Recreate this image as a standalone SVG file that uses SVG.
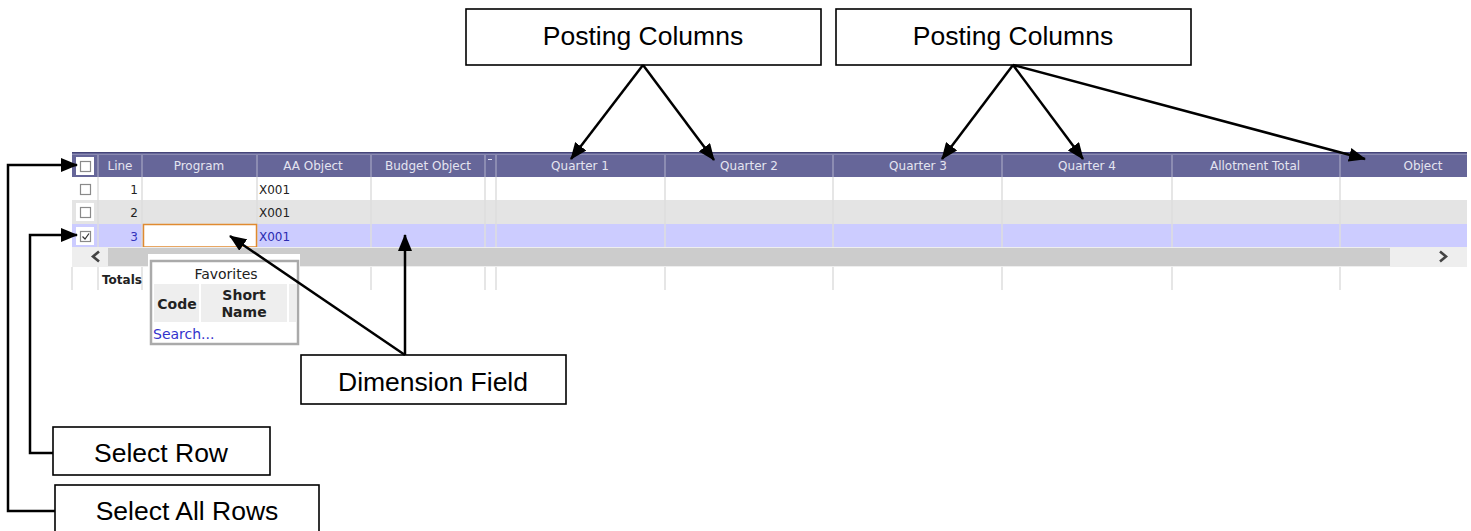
<svg xmlns="http://www.w3.org/2000/svg" width="1471" height="531" viewBox="0 0 1471 531">
<style>
.hd{font-family:"DejaVu Sans",Verdana,sans-serif;font-size:12px;fill:#e4e4f0;text-anchor:middle}
.td{font-family:"DejaVu Sans",Verdana,sans-serif;font-size:12px;fill:#222}
.pp{font-family:"DejaVu Sans",Verdana,sans-serif;font-size:14px;fill:#222}
.lbl{font-family:"Liberation Sans",Arial,sans-serif;font-size:26.5px;fill:#000;text-anchor:middle}
.box{fill:#fff;stroke:#000;stroke-width:1.6}
.cb{fill:#fff;stroke:#8a8a8a;stroke-width:1.2}
.vl{stroke:#dedede;stroke-width:1.5}
.hl{stroke:#9a9abb;stroke-width:1.5}
.con{fill:none;stroke:#000;stroke-width:2.5}
</style>
<defs>
<marker id="ah" markerWidth="17" markerHeight="14" refX="16" refY="7" orient="auto" markerUnits="userSpaceOnUse">
<path d="M0,0 L17,7 L0,14 z" fill="#000"/>
</marker>
</defs>

<g id="grid">
<rect x="72" y="152" width="1395" height="25" fill="#666699"/>
<line x1="72" y1="152.5" x2="1467" y2="152.5" stroke="#444477" stroke-width="1"/>
<line x1="72" y1="154.5" x2="1467" y2="154.5" stroke="#8a8ab0" stroke-width="1"/>
<g class="hl">
<line x1="98" y1="155" x2="98" y2="177"/><line x1="142" y1="155" x2="142" y2="177"/>
<line x1="257" y1="155" x2="257" y2="177"/><line x1="371" y1="155" x2="371" y2="177"/>
<line x1="485" y1="155" x2="485" y2="177"/><line x1="496" y1="155" x2="496" y2="177"/>
<line x1="665" y1="155" x2="665" y2="177"/><line x1="833" y1="155" x2="833" y2="177"/>
<line x1="1002" y1="155" x2="1002" y2="177"/><line x1="1172" y1="155" x2="1172" y2="177"/>
<line x1="1340" y1="155" x2="1340" y2="177"/>
</g>
<rect x="76" y="157" width="18" height="18" fill="#fff"/>
<rect x="80.5" y="161.5" width="10" height="10" class="cb"/>
<line x1="488" y1="159.5" x2="492" y2="159.5" stroke="#e4e4f0" stroke-width="1"/>
<text class="hd" x="120" y="170">Line</text>
<text class="hd" x="199" y="170">Program</text>
<text class="hd" x="313" y="170">AA Object</text>
<text class="hd" x="428" y="170">Budget Object</text>
<text class="hd" x="580" y="170">Quarter 1</text>
<text class="hd" x="749" y="170">Quarter 2</text>
<text class="hd" x="918" y="170">Quarter 3</text>
<text class="hd" x="1087" y="170">Quarter 4</text>
<text class="hd" x="1255" y="170">Allotment Total</text>
<text class="hd" x="1423" y="170">Object</text>

<rect x="72" y="177" width="1395" height="23" fill="#fff"/>
<rect x="72" y="200" width="1395" height="24" fill="#e4e4e4"/>
<rect x="72" y="224" width="1395" height="23" fill="#ccccff"/>
<g class="vl">
<line x1="98" y1="177" x2="98" y2="247"/><line x1="142" y1="177" x2="142" y2="247"/>
<line x1="257" y1="177" x2="257" y2="247"/><line x1="371" y1="177" x2="371" y2="247"/>
<line x1="485" y1="177" x2="485" y2="247"/><line x1="496" y1="177" x2="496" y2="247"/>
<line x1="665" y1="177" x2="665" y2="247"/><line x1="833" y1="177" x2="833" y2="247"/>
<line x1="1002" y1="177" x2="1002" y2="247"/><line x1="1172" y1="177" x2="1172" y2="247"/>
<line x1="1340" y1="177" x2="1340" y2="247"/>
</g>
<rect x="80.5" y="184.5" width="10" height="10" class="cb"/>
<rect x="76" y="203" width="18" height="18" fill="#fff"/>
<rect x="80.5" y="207.5" width="10" height="10" class="cb"/>
<rect x="76" y="227" width="18" height="18" fill="#fff"/>
<rect x="80.5" y="231.5" width="10" height="10" class="cb"/>
<path d="M82.5,236.5 L85,239 L89,233.5" fill="none" stroke="#333" stroke-width="1.2"/>
<text class="td" x="138" y="194" text-anchor="end">1</text>
<text class="td" x="138" y="217" text-anchor="end">2</text>
<text class="td" x="138" y="241" text-anchor="end" style="fill:#3333bb">3</text>
<text class="td" x="259" y="194">X001</text>
<text class="td" x="259" y="217">X001</text>
<text class="td" x="259" y="241" style="fill:#2a2ab0">X001</text>
<rect x="143.5" y="224.5" width="113" height="22.5" fill="#fff" stroke="#e08a30" stroke-width="1.5"/>

<rect x="72" y="247" width="1395" height="20" fill="#eeeeee"/>
<rect x="108" y="248" width="1282" height="18" fill="#cccccc"/>
<path d="M99,251.5 L93,256.5 L99,261.5" fill="none" stroke="#444" stroke-width="2.6"/>
<path d="M1440,251.5 L1446,256.5 L1440,261.5" fill="none" stroke="#444" stroke-width="2.6"/>

<rect x="72" y="267" width="1395" height="23" fill="#fff"/>
<g class="vl">
<line x1="72" y1="267" x2="72" y2="290"/>
<line x1="98" y1="267" x2="98" y2="290"/><line x1="142" y1="267" x2="142" y2="290"/>
<line x1="257" y1="267" x2="257" y2="290"/><line x1="371" y1="267" x2="371" y2="290"/>
<line x1="485" y1="267" x2="485" y2="290"/><line x1="496" y1="267" x2="496" y2="290"/>
<line x1="665" y1="267" x2="665" y2="290"/><line x1="833" y1="267" x2="833" y2="290"/>
<line x1="1002" y1="267" x2="1002" y2="290"/><line x1="1172" y1="267" x2="1172" y2="290"/>
<line x1="1340" y1="267" x2="1340" y2="290"/>
</g>
<text class="td" x="102" y="284" style="font-weight:bold">Totals</text>
</g>

<g id="favorites-popup">
<rect x="148" y="254" width="152" height="92" fill="#fff"/>
<rect x="151" y="261" width="147" height="83" fill="#fff" stroke="#aaaaaa" stroke-width="2.5"/>
<text class="pp" x="226" y="279" text-anchor="middle">Favorites</text>
<rect x="154" y="284" width="45" height="38" fill="#eeeeee"/>
<rect x="201" y="284" width="86" height="38" fill="#eeeeee"/>
<rect x="289" y="284" width="7" height="38" fill="#eeeeee"/>
<text class="pp" x="177" y="309" text-anchor="middle" font-weight="bold">Code</text>
<text class="pp" x="244" y="300" text-anchor="middle" font-weight="bold">Short</text>
<text class="pp" x="244" y="317" text-anchor="middle" font-weight="bold">Name</text>
<text class="pp" x="153" y="339" style="fill:#3333cc">Search...</text>
</g>

<g id="posting-columns-1">
<rect class="box" x="466" y="9" width="355" height="56"/>
<text class="lbl" x="643" y="45">Posting Columns</text>
</g>
<g id="posting-columns-2">
<rect class="box" x="836" y="9" width="355" height="56"/>
<text class="lbl" x="1013" y="45">Posting Columns</text>
</g>
<g id="dimension-field">
<rect class="box" x="301" y="355" width="265" height="49"/>
<text class="lbl" x="433" y="391">Dimension Field</text>
</g>
<g id="select-row">
<rect class="box" x="53" y="427" width="217" height="48"/>
<text class="lbl" x="161" y="462">Select Row</text>
</g>
<g id="select-all-rows">
<rect class="box" x="55" y="485" width="264" height="52"/>
<text class="lbl" x="187" y="520">Select All Rows</text>
</g>

<g id="connectors">
<path class="con" d="M643,65 L571,159" marker-end="url(#ah)"/>
<path class="con" d="M643,65 L714,160" marker-end="url(#ah)"/>
<path class="con" d="M1013,65 L942,159" marker-end="url(#ah)"/>
<path class="con" d="M1013,65 L1083,159" marker-end="url(#ah)"/>
<path class="con" d="M1013,65 L1365,159" marker-end="url(#ah)"/>
<path class="con" d="M405,355 L405,235" marker-end="url(#ah)"/>
<path class="con" d="M405,355 L230,236" marker-end="url(#ah)"/>
<path class="con" d="M55,511 L8,511 L8,165 L77,165" marker-end="url(#ah)"/>
<path class="con" d="M53,453 L30,453 L30,235 L77,235" marker-end="url(#ah)"/>
</g>
</svg>
